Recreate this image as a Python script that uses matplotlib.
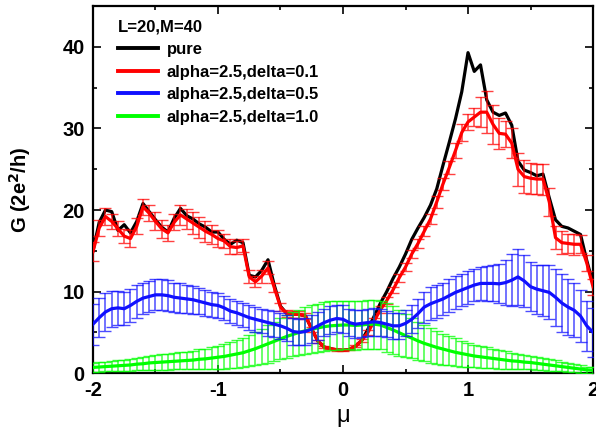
import numpy as np
import matplotlib
matplotlib.use('Agg')
import matplotlib.pyplot as plt
from matplotlib.lines import Line2D
from matplotlib.ticker import MultipleLocator

plt.rcParams['font.family'] = ['Liberation Sans', 'DejaVu Sans']
plt.rcParams['font.weight'] = 'bold'
plt.rcParams['axes.unicode_minus'] = False

# chemical potential grid
mu = np.linspace(-2, 2, 81)

pure = [15.0, 18.5, 20.0, 19.8, 17.5, 18.2, 17.2, 18.6, 20.8, 19.8,
        18.8, 17.9, 17.3, 19.0, 20.2, 19.3, 18.9, 18.3, 17.9, 17.3,
        17.3, 16.4, 15.8, 16.3, 16.0, 12.0, 11.8, 12.6, 13.9, 10.8,
        8.2, 7.3, 7.2, 7.2, 7.0, 5.4, 3.9, 3.2, 3.0, 2.85,
        2.8, 2.9, 3.3, 4.0, 5.4, 7.0, 8.6, 10.0, 11.6, 13.0,
        14.6, 16.4, 17.8, 19.1, 20.6, 22.6, 25.5, 28.3, 31.2, 34.5,
        39.3, 37.0, 37.8, 33.5, 32.0, 31.6, 31.9, 30.4, 26.0, 24.9,
        24.6, 24.2, 24.4, 21.5, 18.8, 18.0, 17.8, 17.4, 17.0, 13.8,
        11.0]

red = [14.9, 17.8, 19.2, 18.6, 17.7, 16.8, 16.5, 18.0, 20.4, 19.6,
       18.6, 17.7, 17.2, 18.5, 19.4, 18.9, 18.4, 17.9, 17.4, 17.0,
       16.5, 16.2, 15.5, 15.4, 15.6, 11.8, 11.2, 11.9, 12.9, 10.5,
       8.1, 7.3, 7.2, 7.2, 7.0, 5.4, 3.9, 3.2, 3.0, 2.85,
       2.8, 2.9, 3.3, 4.0, 5.0, 6.4, 7.8, 8.9, 10.2, 11.7,
       13.0, 14.6, 15.9, 17.4, 18.9, 21.0, 23.2, 25.2, 27.3, 29.5,
       30.8, 31.4, 32.0, 32.0, 30.5, 29.4, 29.3, 28.2, 25.0, 24.1,
       23.9, 23.8, 23.8, 21.0, 16.6, 16.0, 15.9, 15.8, 15.8, 13.5,
       10.6]
red_err = [1.2, 1.0, 1.0, 0.9, 0.9, 0.9, 1.0, 1.0, 1.0, 1.0,
           1.1, 1.1, 1.0, 1.0, 1.2, 1.2, 1.3, 1.3, 1.3, 1.2,
           1.0, 0.9, 0.9, 0.8, 0.8, 0.8, 0.7, 0.8, 0.8, 0.6,
           0.5, 0.4, 0.4, 0.4, 0.4, 0.3, 0.2, 0.1, 0.1, 0.1,
           0.1, 0.1, 0.1, 0.2, 0.3, 0.3, 0.4, 0.4, 0.4, 0.5,
           0.5, 0.5, 0.5, 0.6, 0.6, 0.7, 0.7, 0.8, 0.9, 1.0,
           1.0, 1.1, 1.8, 2.6, 2.4, 1.9, 1.6, 1.8, 2.0, 2.0,
           1.9, 1.8, 1.9, 1.7, 1.4, 1.4, 1.2, 1.3, 1.1, 1.0,
           1.0]

blue = [6.0, 6.8, 7.5, 7.9, 8.0, 7.9, 8.3, 8.8, 9.2, 9.4,
        9.6, 9.6, 9.5, 9.3, 9.2, 9.1, 9.0, 8.8, 8.6, 8.4,
        8.3, 8.0, 7.6, 7.4, 7.1, 6.8, 6.6, 6.4, 6.2, 6.0,
        5.8, 5.5, 5.1, 5.0, 5.1, 5.4, 5.8, 6.2, 6.5, 6.7,
        6.6, 6.2, 6.0, 6.1, 6.2, 6.3, 6.2, 6.0, 5.8, 5.8,
        6.1, 6.6, 7.3, 8.1, 8.5, 8.8, 9.1, 9.5, 9.9, 10.2,
        10.5, 10.8, 11.0, 11.0, 11.0, 10.95, 11.1, 11.4, 11.8, 11.3,
        10.6, 10.3, 10.1, 9.9, 9.3, 8.6, 8.1, 7.7, 7.0, 5.8,
        5.0]
blue_err = [2.5, 2.4, 2.3, 2.2, 2.1, 2.0, 2.0, 2.0, 1.9, 1.9,
            1.9, 1.9, 1.9, 1.8, 1.8, 1.7, 1.7, 1.6, 1.6, 1.5,
            1.5, 1.5, 1.5, 1.5, 1.5, 1.5, 1.5, 1.5, 1.6, 1.6,
            1.6, 1.6, 1.6, 1.6, 1.7, 1.7, 1.7, 1.7, 1.7, 1.7,
            1.7, 1.7, 1.7, 1.7, 1.7, 1.7, 1.7, 1.6, 1.6, 1.6,
            1.6, 1.7, 1.8, 1.9, 2.0, 2.0, 2.0, 2.0, 2.0, 2.0,
            2.0, 2.0, 2.0, 2.1, 2.2, 2.4, 2.8, 3.2, 3.4, 3.2,
            3.0, 3.0, 3.1, 3.3, 3.5, 3.5, 3.4, 3.3, 3.2, 3.1,
            3.0]

green = [0.7, 0.75, 0.8, 0.85, 0.9, 0.95, 1.0, 1.1, 1.15, 1.25,
         1.3, 1.35, 1.4, 1.45, 1.5, 1.55, 1.6, 1.7, 1.75, 1.85,
         1.95, 2.05, 2.2, 2.35, 2.5, 2.75, 3.0, 3.3, 3.6, 3.9,
         4.2, 4.5, 4.75, 5.0, 5.2, 5.4, 5.55, 5.7, 5.8, 5.85,
         5.9, 5.9, 5.85, 5.9, 6.0, 6.0, 5.9, 5.6, 5.3, 4.95,
         4.6, 4.3, 3.95, 3.65, 3.4, 3.15, 2.95, 2.75, 2.55, 2.4,
         2.25, 2.1, 2.0, 1.9, 1.8, 1.7, 1.6, 1.5, 1.45, 1.35,
         1.3, 1.2, 1.1, 1.0, 0.9, 0.8, 0.7, 0.6, 0.5, 0.4,
         0.35]
green_err = [0.6, 0.6, 0.6, 0.65, 0.65, 0.7, 0.7, 0.75, 0.8, 0.85,
             0.9, 0.95, 1.0, 1.0, 1.05, 1.1, 1.15, 1.2, 1.25, 1.3,
             1.4, 1.5, 1.6, 1.7, 1.8, 1.9, 2.0, 2.15, 2.3, 2.4,
             2.5, 2.6, 2.7, 2.8, 2.85, 2.9, 2.95, 3.0, 3.0, 3.0,
             3.0, 3.0, 3.0, 3.0, 3.0, 3.0, 3.0, 3.0, 2.9, 2.8,
             2.65, 2.5, 2.35, 2.2, 2.1, 2.0, 1.9, 1.8, 1.7, 1.6,
             1.5, 1.4, 1.35, 1.3, 1.2, 1.15, 1.1, 1.0, 0.95, 0.9,
             0.85, 0.8, 0.75, 0.7, 0.65, 0.6, 0.55, 0.5, 0.45, 0.4,
             0.4]

labels = ['pure', 'alpha=2.5,delta=0.1', 'alpha=2.5,delta=0.5', 'alpha=2.5,delta=1.0']
colors = ['black', '#ff0000', '#1010ff', '#00ff00']

fig = plt.figure(figsize=(5.96, 4.40), dpi=100)
ax = fig.add_axes([0.156, 0.152, 0.839, 0.834])

ax.plot(mu, pure, color=colors[0], lw=2.3, zorder=2)

def err_series(y, e, c, z):
    ax.errorbar(mu, y, yerr=e, color=c, ecolor=c, elinewidth=1.1, capsize=4,
                capthick=1.0, alpha=0.75, lw=0, zorder=z)
    ax.plot(mu, y, color=c, lw=2.3, zorder=z + 0.5)

err_series(red, red_err, colors[1], 3)
err_series(green, green_err, colors[3], 4)
err_series(blue, blue_err, colors[2], 5)

ax.set_xlim(-2, 2)
ax.set_ylim(0, 45)
ax.xaxis.set_major_locator(MultipleLocator(1))
ax.xaxis.set_minor_locator(MultipleLocator(0.5))
ax.yaxis.set_major_locator(MultipleLocator(10))
ax.yaxis.set_minor_locator(MultipleLocator(5))
ax.tick_params(which='both', direction='in', top=True, right=True, width=1.2)
ax.tick_params(which='major', length=6, labelsize=14.5, pad=6)
ax.tick_params(which='minor', length=3)
for s in ax.spines.values():
    s.set_linewidth(1.6)
for t in ax.get_xticklabels() + ax.get_yticklabels():
    t.set_fontweight('bold')

ax.set_xlabel('μ', fontsize=17, fontweight='normal', labelpad=3)
ax.set_ylabel('G (2e$^\\mathbf{2}$/h)', fontsize=14.5, fontweight='bold', labelpad=21)

handles = [Line2D([], [], color=c, lw=2.8) for c in colors]
leg = ax.legend(handles, labels, loc='upper left', frameon=False,
                title='L=20,M=40', fontsize=12, handlelength=2.45,
                handletextpad=0.5, labelspacing=0.45,
                bbox_to_anchor=(0.026, 0.995), borderaxespad=0.3,
                alignment='left')
leg.get_title().set_fontweight('bold')
leg.get_title().set_fontsize(12)

fig.savefig('out.png', dpi=100)
